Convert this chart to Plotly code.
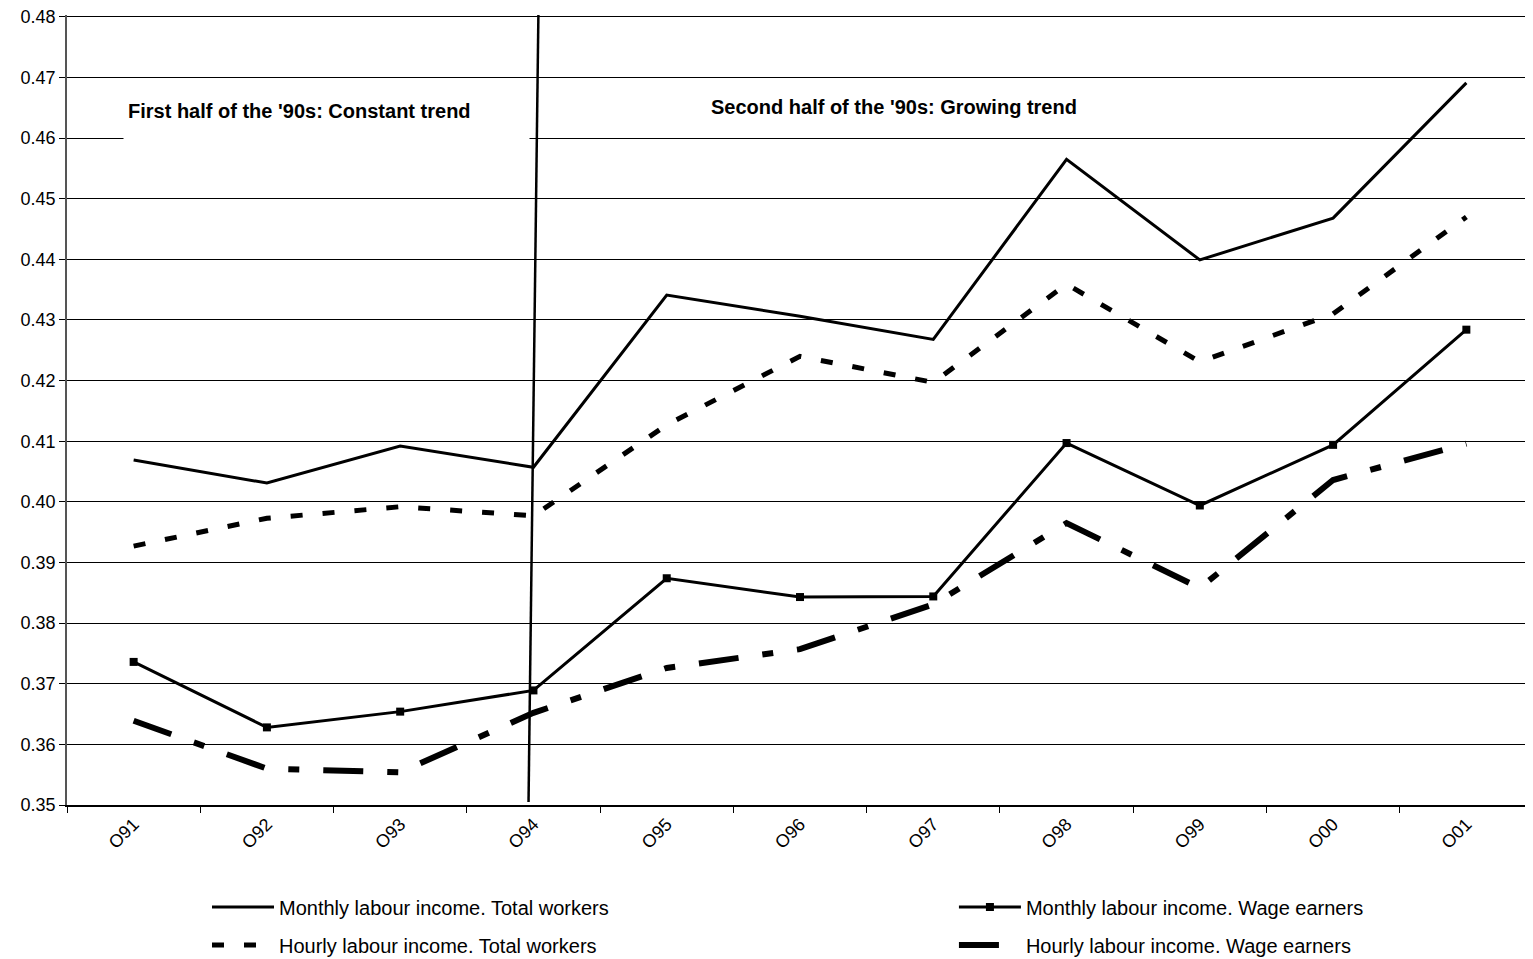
import plotly.graph_objects as go

categories = ["O91", "O92", "O93", "O94", "O95", "O96", "O97", "O98", "O99", "O00", "O01"]

monthly_total = [0.4069, 0.4031, 0.4092, 0.4057, 0.4341, 0.4306, 0.4268, 0.4565, 0.4399, 0.4468, 0.4691]
hourly_total = [0.3927, 0.3973, 0.3992, 0.3977, 0.4127, 0.4240, 0.4197, 0.4359, 0.4231, 0.4310, 0.4470]
monthly_wage = [0.3736, 0.3628, 0.3654, 0.3689, 0.3874, 0.3843, 0.3844, 0.4097, 0.3994, 0.4094, 0.4284]
hourly_wage = [0.3639, 0.3560, 0.3554, 0.3652, 0.3726, 0.3757, 0.3831, 0.3965, 0.3858, 0.4036, 0.4096]

y_ticks = [0.35, 0.36, 0.37, 0.38, 0.39, 0.40, 0.41, 0.42, 0.43, 0.44, 0.45, 0.46, 0.47, 0.48]
y_tick_labels = ["0.35", "0.36", "0.37", "0.38", "0.39", "0.40", "0.41", "0.42", "0.43",
                 "0.44", "0.45", "0.46", "0.47", "0.48"]

names = [
    "Monthly labour income. Total workers",
    "Monthly labour income. Wage earners",
    "Hourly labour income. Total workers",
    "Hourly labour income. Wage earners",
]

# divider line (category index positions, y values)
divider_x = [2.963, 3.037]
divider_y = [0.3505, 0.4803]

text_first = "First half of the '90s: Constant trend"
text_second = "Second half of the '90s: Growing trend"

FONT = "Liberation Sans, Arial, sans-serif"

fig = go.Figure()
fig.add_trace(go.Scatter(x=categories, y=monthly_total, name=names[0], mode="lines",
                         line=dict(color="black", width=3), legend="legend"))
fig.add_trace(go.Scatter(x=categories, y=monthly_wage, name=names[1], mode="lines+markers",
                         line=dict(color="black", width=3),
                         marker=dict(symbol="square", size=8, color="black"), legend="legend2"))
fig.add_trace(go.Scatter(x=categories, y=hourly_total, name=names[2], mode="lines",
                         line=dict(color="black", width=5, dash="12px,20px"), legend="legend3"))
fig.add_trace(go.Scatter(x=categories, y=hourly_wage, name=names[3], mode="lines",
                         line=dict(color="black", width=6, dash="40px,24px,11px,24px"), legend="legend4"))

fig.add_shape(type="line", xref="x", yref="y",
              x0=divider_x[0], y0=divider_y[0], x1=divider_x[1], y1=divider_y[1],
              line=dict(color="black", width=2.5))

fig.add_annotation(x=1.444, y=0.46453, xref="x", yref="y", text="<b>" + text_first + "</b>",
                   showarrow=False, bgcolor="white", width=397, height=50, borderpad=4, align="left",
                   font=dict(family=FONT, size=20, color="black"))
fig.add_annotation(x=5.709, y=0.46519, xref="x", yref="y", text="<b>" + text_second + "</b>",
                   showarrow=False, font=dict(family=FONT, size=20, color="black"))

legend_common = dict(orientation="h", itemwidth=62,
                     font=dict(family=FONT, size=20, color="black"),
                     bgcolor="rgba(0,0,0,0)", xanchor="left", yanchor="middle",
                     yref="container")

x_left, x_right = 0.0955, 0.605
y_row1, y_row2 = 0.0547, 0.0147

fig.update_layout(
    width=1525, height=951,
    margin=dict(l=59, r=0, t=7, b=154, autoexpand=False),
    paper_bgcolor="white", plot_bgcolor="white",
    font=dict(family=FONT, size=18, color="black"),
    showlegend=True,
    legend=dict(x=x_left, y=y_row1, **legend_common),
    legend2=dict(x=x_right, y=y_row1, **legend_common),
    legend3=dict(x=x_left, y=y_row2, **legend_common),
    legend4=dict(x=x_right, y=y_row2, **legend_common),
    xaxis=dict(type="category", range=[-0.5, 10.5], tickson="boundaries", ticks="outside",
               ticklen=6, tickcolor="black", tickangle=-45, showline=True, linecolor="black",
               linewidth=1.5, showgrid=False, automargin=False,
               tickfont=dict(family=FONT, size=18, color="black")),
    yaxis=dict(range=[0.35, 0.4803], tickmode="array", tickvals=y_ticks, ticktext=y_tick_labels,
               ticks="outside", ticklen=6, automargin=False, ticklabeloverflow="allow",
               tickcolor="black", showline=True, linecolor="#555555", linewidth=1.5,
               showgrid=True, gridcolor="black", gridwidth=1, zeroline=False,
               tickfont=dict(family=FONT, size=18, color="black")),
)

fig.write_html("out.html")
